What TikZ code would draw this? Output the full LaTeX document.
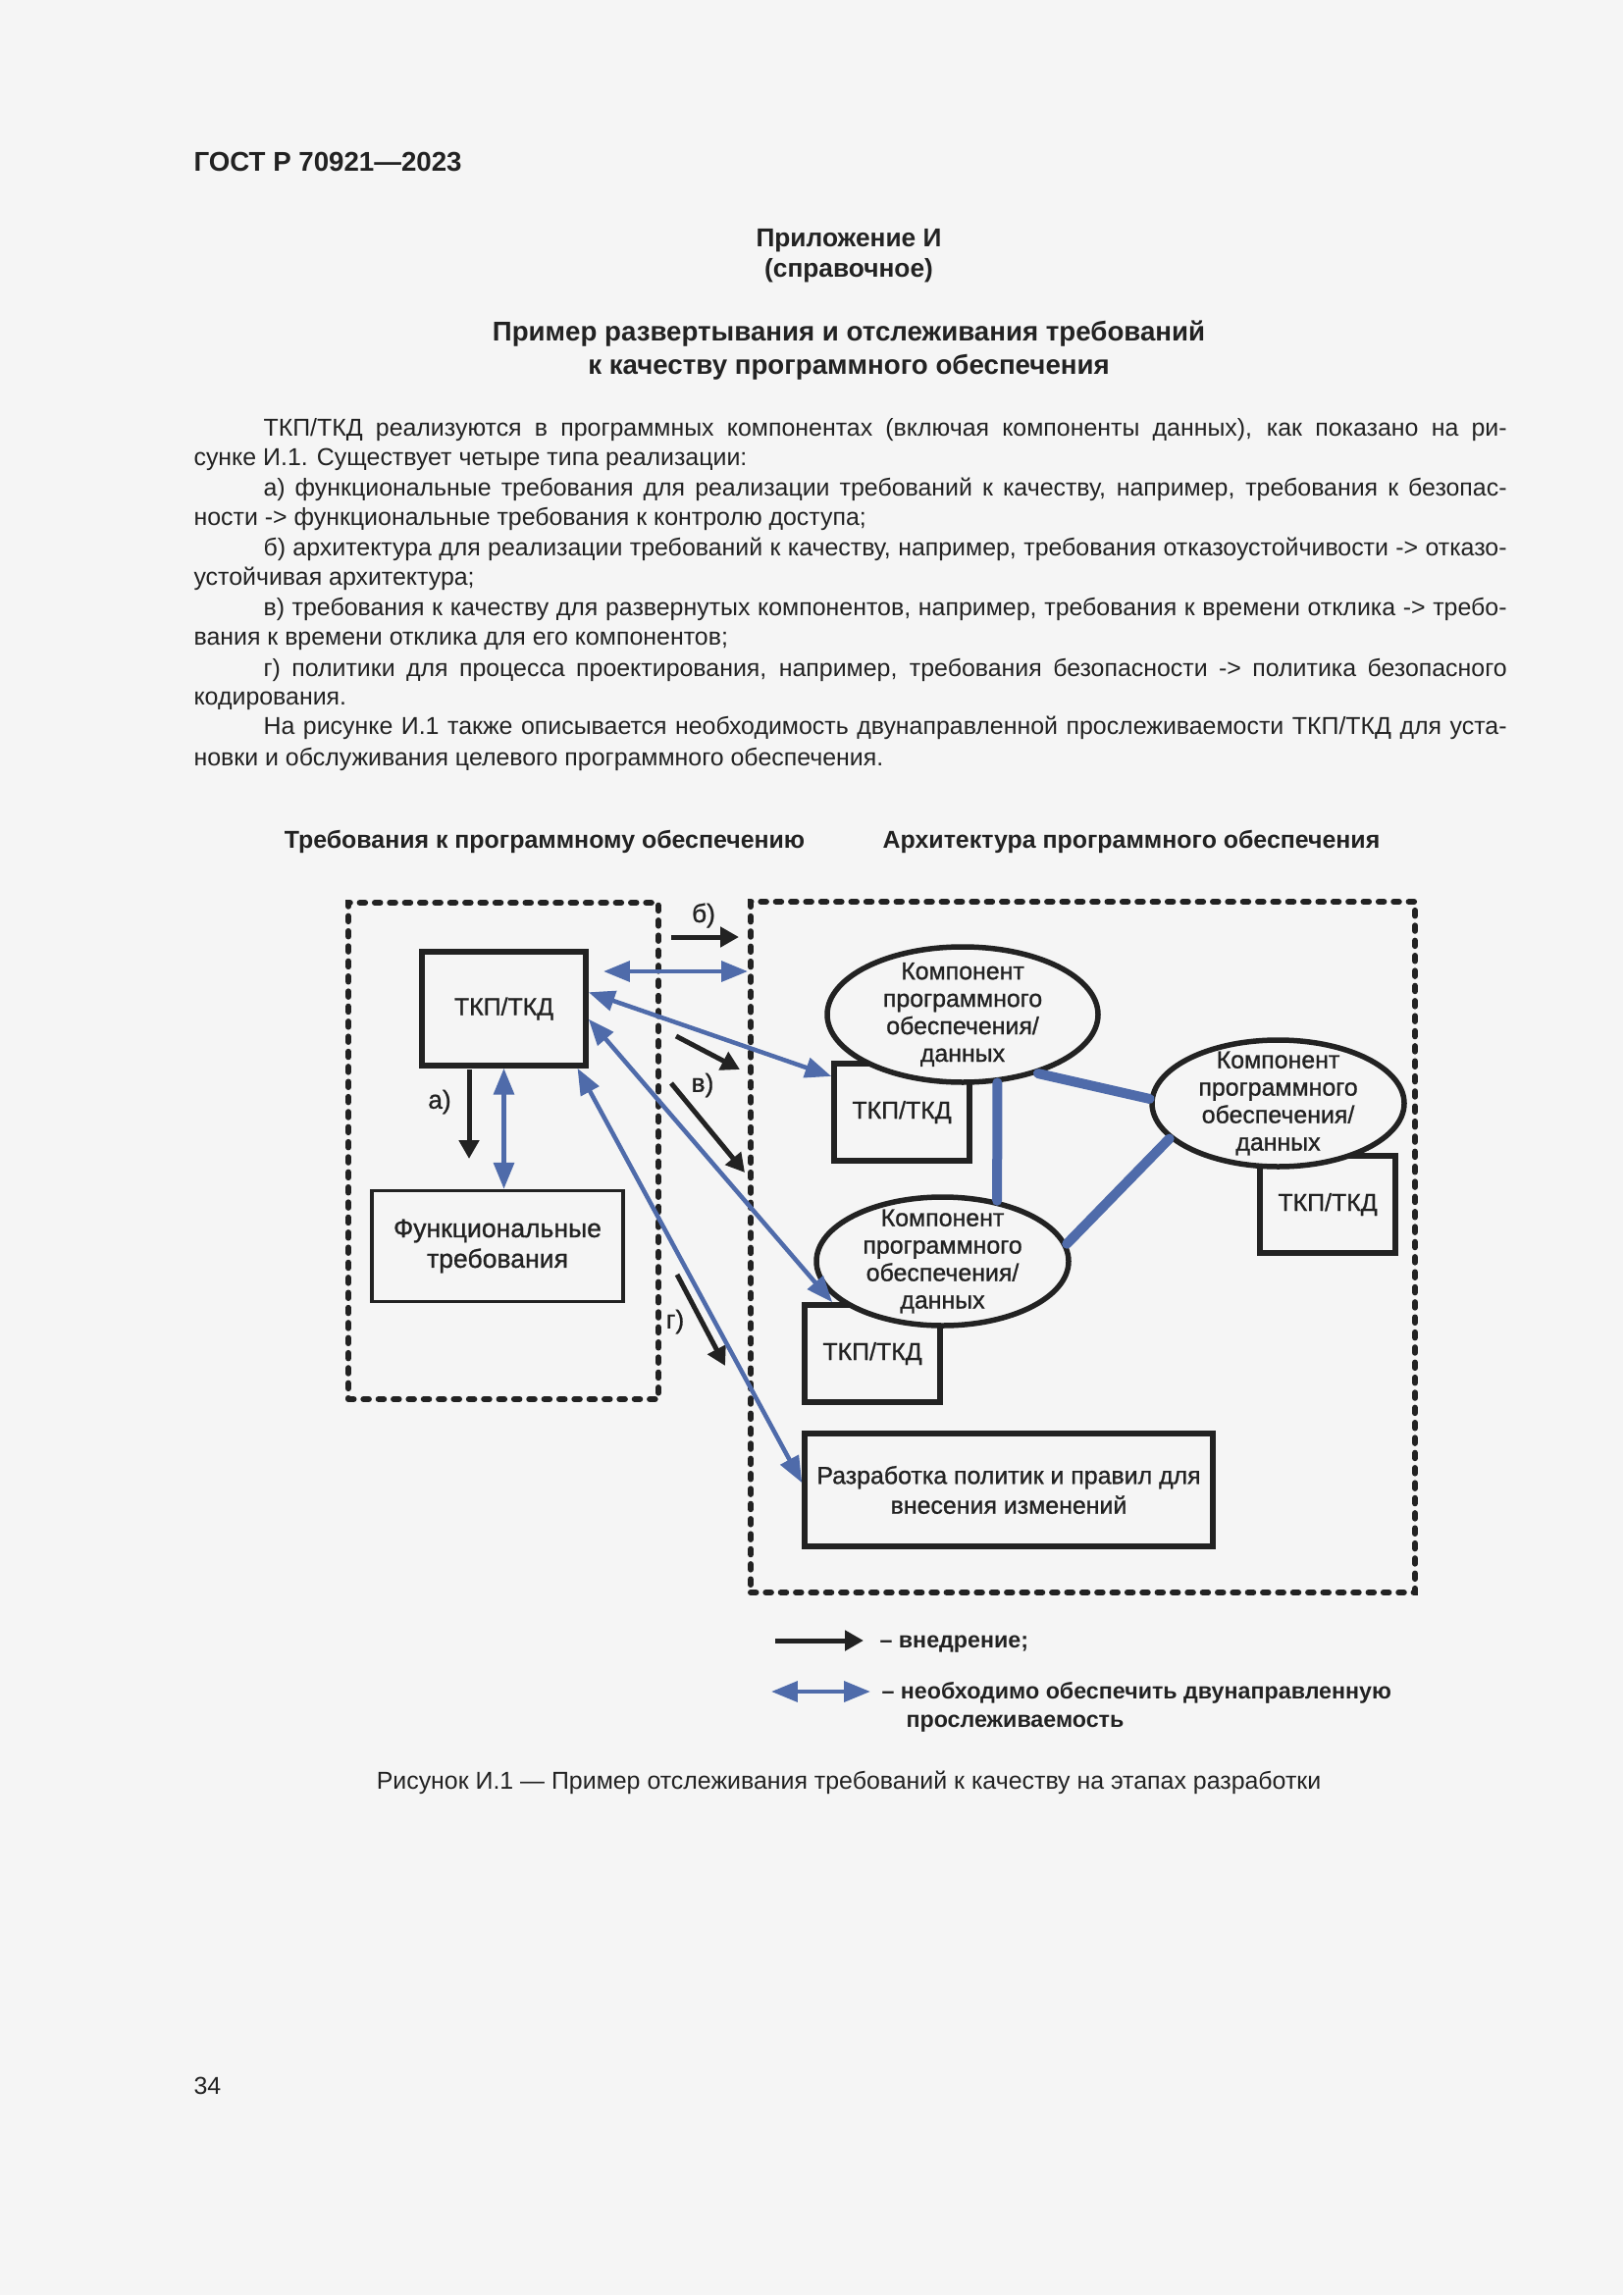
\documentclass[tikz,border=0pt]{standalone}
\usepackage{fontspec}
\setmainfont{Liberation Sans}
\newfontface\diagfont{Liberation Sans}[FakeBold=1]
\usetikzlibrary{arrows.meta, shapes.geometric, positioning}

\newlength\pxu
\setlength\pxu{0.127mm}
\definecolor{pagebg}{HTML}{F5F5F5}
\definecolor{ink}{HTML}{222222}
\definecolor{tracecol}{HTML}{4F6BAA}

\tikzset{
  bodyline/.style={inner sep=0pt, anchor=mid west, font=\fontsize{9}{11}\selectfont},
  frame/.style={draw=ink, line width=6\pxu, line cap=round, dash pattern=on 0.7mm off 1.25mm, inner sep=0pt},
  tkpbox/.style={draw=ink, line width=5.5\pxu, fill=pagebg, minimum width=138\pxu, minimum height=99\pxu, font=\diagfont\fontsize{9}{11}\selectfont},
  comp/.style={ellipse, draw=ink, line width=5.5\pxu, fill=pagebg, inner sep=0pt},
  comptext/.style={align=center, font=\diagfont\fontsize{9}{10.1}\selectfont},
  steplabel/.style={font=\diagfont\fontsize{9.5}{11}\selectfont},
  implarrow/.style={-{Triangle[length=2.4mm, width=2.54mm]}, line width=5\pxu, draw=ink},
  tracearrow/.style={{Triangle[length=3.4mm, width=2.6mm]}-{Triangle[length=3.4mm, width=2.6mm]}, line width=4.5\pxu, draw=tracecol},
  complink/.style={line width=10\pxu, draw=tracecol, line cap=round},
  legendtxt/.style={inner sep=0pt, anchor=mid west, font=\fontsize{8.4}{11}\selectfont\bfseries}
}

\begin{document}
\begin{tikzpicture}[x=\pxu, y=-\pxu, every node/.style={text=ink}]
  \fill[pagebg] (0,0) rectangle (1654,2339);
  \useasboundingbox (0,0) rectangle (1654,2339);

  % header and title
  \node[inner sep=0pt, anchor=mid west, font=\fontsize{10}{12}\selectfont\bfseries] (gost) at (197,167) {ГОСТ Р 70921—2023};
  \node[font=\fontsize{9.5}{12}\selectfont\bfseries] (app) at (865,245) {Приложение И};
  \node[font=\fontsize{9.5}{12}\selectfont\bfseries] (appkind) at (865,276) {(справочное)};
  \node[font=\fontsize{10}{12}\selectfont\bfseries] (title1) at (865,340) {Пример развертывания и отслеживания требований};
  \node[font=\fontsize{10}{12}\selectfont\bfseries] (title2) at (865,374) {к качеству программного обеспечения};

  % paragraph lines
  \foreach \yy/\txt in {437/{ТКП/ТКД реализуются в программных компонентах (включая компоненты данных), как показано на ри-},
                        498/{а) функциональные требования для реализации требований к качеству, например, требования к безопас-},
                        559/{б) архитектура для реализации требований к качеству, например, требования отказоустойчивости -> отказо-},
                        620/{в) требования к качеству для развернутых компонентов, например, требования к времени отклика -> требо-},
                        682/{г) политики для процесса проектирования, например, требования безопасности -> политика безопасного},
                        741/{На рисунке И.1 также описывается необходимость двунаправленной прослеживаемости ТКП/ТКД для уста-}}
    \node[bodyline] (par-\yy) at (268,\yy) {\makebox[1267\pxu][s]{\txt}};
  \foreach \yy/\txt in {467/{сунке И.1. Существует четыре типа реализации:},
                        528/{ности -> функциональные требования к контролю доступа;},
                        589/{устойчивая архитектура;},
                        650/{вания к времени отклика для его компонентов;},
                        711/{кодирования.},
                        773/{новки и обслуживания целевого программного обеспечения.}}
    \node[bodyline] (par-\yy) at (197,\yy) {\txt};

  % column headers
  \node[font=\fontsize{9}{11}\selectfont\bfseries] (reqhead) at (555,858) {Требования к программному обеспечению};
  \node[font=\fontsize{9}{11}\selectfont\bfseries] (archhead) at (1153,858) {Архитектура программного обеспечения};

  % dashed frames
  \node[frame, minimum width=316\pxu, minimum height=506\pxu] (LB) at (513,1173) {};
  \node[frame, minimum width=677\pxu, minimum height=704\pxu] (RB) at (1103.5,1271) {};

  % boxes
  \node[tkpbox, minimum width=167\pxu, minimum height=116\pxu] (T0) at (513.5,1028) {ТКП/ТКД};
  \node[draw=ink, line width=3.5\pxu, minimum width=256\pxu, minimum height=113\pxu, align=center,
        font=\diagfont\fontsize{9.6}{11.2}\selectfont] (F) at (507,1270) {Функциональные\\требования};
  \node[tkpbox] (B1) at (919,1133.5) {ТКП/ТКД};
  \node[tkpbox] (B2) at (1353,1227.5) {ТКП/ТКД};
  \node[tkpbox] (B3) at (889,1379.5) {ТКП/ТКД};
  \node[tkpbox, minimum width=416\pxu, minimum height=115\pxu, align=center] (P) at (1028,1518.5)
       {Разработка политик и правил для\\внесения изменений};

  % components
  \node[comp, minimum width=276\pxu, minimum height=138\pxu] (E1) at (981,1034) {};
  \node[comp, minimum width=257\pxu, minimum height=129\pxu] (E2) at (1302.5,1124.5) {};
  \node[comp, minimum width=257\pxu, minimum height=131\pxu] (E3) at (960.5,1285.5) {};
  \foreach \e in {E1,E2,E3}
    \node[comptext] (\e-txt) at (\e) {Компонент\\программного\\обеспечения/\\данных};

  \draw[complink] (E1.-63) -- (E3.48);
  \draw[complink] (E1.-38) -- (E2.178);
  \draw[complink] (E3.8) -- (E2.198);

  % implementation arrows
  \coordinate (a1) at (478,1090);
  \coordinate (a2) at (478,1181);
  \coordinate (b1) at (684,955);
  \coordinate (v1) at (689,1056);
  \coordinate (v2) at (754,1090);
  \coordinate (v3) at (684,1104);
  \coordinate (v4) at (759,1195);
  \coordinate (g1) at (690,1299);
  \coordinate (g2) at (739,1392);
  \draw[implarrow] (a1) -- (a2);
  \draw[implarrow, shorten >=9\pxu] (b1) -- (b1 -| RB.west);
  \draw[implarrow] (v1) -- (v2);
  \draw[implarrow] (v3) -- (v4);
  \draw[implarrow] (g1) -- (g2);

  \node[steplabel] (lab-a) at (448,1123) {а)};
  \node[steplabel] (lab-b) at (717,933) {б)};
  \node[steplabel] (lab-v) at (716,1106) {в)};
  \node[steplabel] (lab-g) at (688,1347) {г)};

  % traceability arrows
  \coordinate (h1) at (615,990);
  \draw[tracearrow] (T0.south) -- (T0.south |- F.north);
  \draw[tracearrow] (h1) -- (h1 -| RB.west);
  \draw[tracearrow] (T0.11) -- (B1.153);
  \draw[tracearrow] (T0.-7) -- (B3.128);
  \draw[tracearrow] (T0.-39) -- (P.178);

  % legend
  \coordinate (k1) at (790,1672);
  \coordinate (k2) at (880,1672);
  \coordinate (k3) at (786,1724);
  \coordinate (k4) at (887,1724);
  \draw[implarrow] (k1) -- (k2);
  \draw[tracearrow] (k3) -- (k4);
  \node[legendtxt] (leg1) at (896,1672) {– внедрение;};
  \node[legendtxt] (leg2) at (898,1724) {– необходимо обеспечить двунаправленную};
  \node[legendtxt] (leg3) at (923,1753) {прослеживаемость};

  % caption and page number
  \node[font=\fontsize{9}{11}\selectfont] (caption) at (865,1817) {Рисунок И.1 — Пример отслеживания требований к качеству на этапах разработки};
  \node[inner sep=0pt, anchor=mid west, font=\fontsize{9}{11}\selectfont] (pageno) at (197,2127) {34};
\end{tikzpicture}
\end{document}
